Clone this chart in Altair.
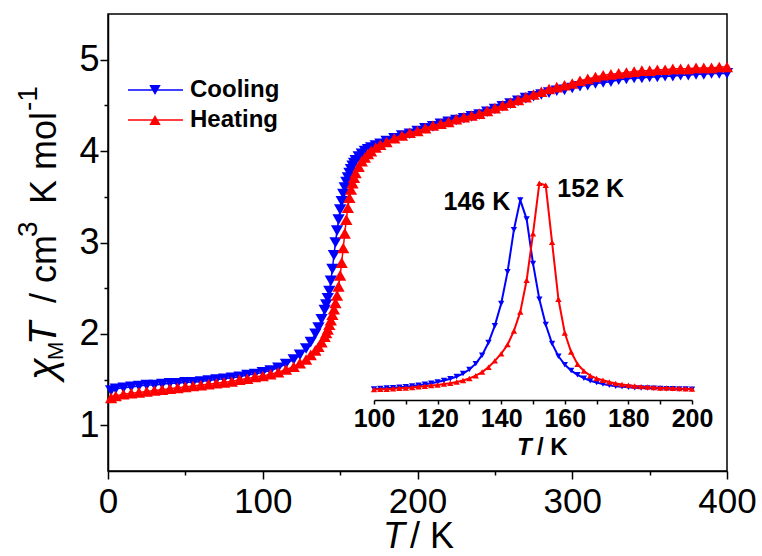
import altair as alt
import pandas as pd

# ---------------- data ----------------
T_main = [2, 5, 10, 15, 20, 25, 30, 35, 40, 45, 50, 55, 60, 65, 70, 75, 80, 85, 90, 95,
          100, 105, 110, 115, 120, 124, 128, 131, 134, 136, 138,
          140, 141, 142, 143, 144, 145, 146, 147, 148, 149, 150, 151, 152, 153, 154, 155,
          156, 157, 158, 159, 160, 162, 164, 166, 168, 170, 173, 176, 180,
          185, 190, 195, 200, 205, 210, 215, 220, 225, 230, 235, 240, 245, 250, 255, 260,
          265, 270, 275, 280, 285, 290, 295, 300, 305, 310, 315, 320, 325, 330, 335, 340,
          345, 350, 355, 360, 365, 370, 375, 380, 385, 390, 395, 400]

chiT_cooling = [1.38, 1.40, 1.41, 1.42, 1.43, 1.44, 1.44, 1.45, 1.46, 1.46, 1.47, 1.47, 1.48, 1.49,
                1.50, 1.51, 1.52, 1.53, 1.55, 1.56, 1.58, 1.60, 1.63, 1.67, 1.72, 1.77, 1.84, 1.91,
                2.00, 2.07, 2.16,
                2.26, 2.32, 2.39, 2.47, 2.58, 2.71, 2.86, 3.00, 3.13, 3.25, 3.36, 3.45, 3.53, 3.60,
                3.66, 3.71, 3.76, 3.80, 3.84, 3.87, 3.90, 3.94, 3.97, 4.00, 4.02, 4.04, 4.06, 4.08,
                4.11,
                4.14, 4.17, 4.19, 4.22, 4.25, 4.27, 4.30, 4.32, 4.34, 4.36, 4.38, 4.40, 4.43, 4.46,
                4.49, 4.52, 4.55, 4.58, 4.60, 4.62, 4.64, 4.66, 4.67, 4.69, 4.71, 4.72, 4.74, 4.75,
                4.76, 4.78, 4.79, 4.80, 4.80, 4.81, 4.81, 4.82, 4.82, 4.83, 4.83, 4.84, 4.84, 4.85,
                4.85, 4.85]

chiT_heating = [1.30, 1.32, 1.34, 1.35, 1.36, 1.37, 1.38, 1.39, 1.40, 1.41, 1.42, 1.43, 1.44, 1.45,
                1.46, 1.47, 1.48, 1.50, 1.51, 1.53, 1.54, 1.56, 1.58, 1.61, 1.64, 1.68, 1.72, 1.77,
                1.82, 1.86, 1.91,
                1.97, 2.01, 2.05, 2.10, 2.15, 2.21, 2.27, 2.34, 2.42, 2.52, 2.64, 2.78, 2.94, 3.10,
                3.25, 3.38, 3.49, 3.58, 3.65, 3.71, 3.76, 3.83, 3.89, 3.93, 3.97, 4.00, 4.04, 4.07,
                4.10,
                4.14, 4.17, 4.20, 4.22, 4.25, 4.28, 4.30, 4.32, 4.35, 4.37, 4.39, 4.41, 4.44, 4.47,
                4.50, 4.53, 4.56, 4.59, 4.62, 4.65, 4.68, 4.70, 4.72, 4.74, 4.77, 4.79, 4.81, 4.83,
                4.84, 4.85, 4.86, 4.87, 4.88, 4.88, 4.89, 4.89, 4.90, 4.90, 4.90, 4.91, 4.91, 4.91,
                4.92, 4.92]

T_inset = [100, 102, 104, 106, 108, 110, 112, 114, 116, 118, 120, 122, 124, 126, 128, 130,
           132, 134, 136, 138, 140, 142, 144, 146, 148, 150, 152, 154, 156, 158, 160, 162,
           164, 166, 168, 170, 172, 174, 176, 178, 180, 182, 184, 186, 188, 190, 192, 194,
           196, 198, 200]

dchiT_cooling = [0.005, 0.007, 0.009, 0.011, 0.013, 0.016, 0.019, 0.023, 0.027, 0.032, 0.038,
                 0.045, 0.053, 0.064, 0.078, 0.097, 0.125, 0.165, 0.225, 0.305, 0.41,
                 0.56, 0.76, 0.90, 0.81, 0.60, 0.43, 0.31, 0.22, 0.16, 0.12, 0.092, 0.072,
                 0.056, 0.044, 0.035, 0.028, 0.022, 0.018, 0.015, 0.013, 0.011, 0.010, 0.009,
                 0.008, 0.007, 0.006, 0.006, 0.005, 0.005, 0.004]

dchiT_heating = [0.002, 0.003, 0.004, 0.006, 0.008, 0.010, 0.012, 0.015, 0.018, 0.021, 0.024,
                 0.028, 0.032, 0.038, 0.045, 0.055, 0.068, 0.085, 0.108, 0.138, 0.172,
                 0.215, 0.28, 0.37, 0.52, 0.74, 0.98, 0.97, 0.70, 0.43, 0.27, 0.18, 0.122,
                 0.09, 0.068, 0.055, 0.046, 0.038, 0.031, 0.026, 0.022, 0.019, 0.016, 0.014,
                 0.012, 0.010, 0.009, 0.008, 0.007, 0.006, 0.005]

series_names = ["Cooling", "Heating"]
peak_T = [146, 152]
peak_labels = ["146 K", "152 K"]
x_ticks = [0, 50, 100, 150, 200, 250, 300, 350, 400]
y_ticks = [1, 1.5, 2, 2.5, 3, 3.5, 4, 4.5, 5]
inset_ticks = [100, 110, 120, 130, 140, 150, 160, 170, 180, 190, 200]

BLUE = "#0000ff"
RED = "#ff0000"
FONT = "Liberation Sans"
W, H = 619, 457

# ---------------- main plot ----------------
df_cool = pd.DataFrame({"T": T_main, "chiT": chiT_cooling})
df_heat = pd.DataFrame({"T": T_main, "chiT": chiT_heating})

x_axis = alt.Axis(values=x_ticks, title=None, grid=False,
                  labelExpr="datum.value % 100 === 0 ? format(datum.value, 'd') : ''",
                  tickSize={"condition": {"test": "datum.value % 100 === 0", "value": 8}, "value": 4},
                  domainColor="black", domainWidth=1.5, tickColor="black", tickWidth=1.5,
                  labelFont=FONT, labelFontSize=35, labelColor="black", labelPadding=5,
                  labelFlush=False, labelOverlap=False)
y_axis = alt.Axis(values=y_ticks, title=None, grid=False,
                  labelExpr="datum.value % 1 === 0 ? format(datum.value, 'd') : ''",
                  tickSize={"condition": {"test": "datum.value % 1 === 0", "value": 8}, "value": 4},
                  domainColor="black", domainWidth=1.5, tickColor="black", tickWidth=1.5,
                  labelFont=FONT, labelFontSize=36, labelColor="black", labelPadding=1,
                  labelFlush=False, labelOverlap=False)

mx = alt.X("T:Q", scale=alt.Scale(domain=[0, 400], nice=False), axis=x_axis)
my = alt.Y("chiT:Q", scale=alt.Scale(domain=[0.5, 5.5], nice=False), axis=y_axis)

cool_line = alt.Chart(df_cool).mark_line(color=BLUE, strokeWidth=1.5).encode(x=mx, y=my)
cool_pts = alt.Chart(df_cool).mark_point(shape="triangle-down", filled=True, color=BLUE,
                                         size=150, opacity=1).encode(x=mx, y=my)
heat_line = alt.Chart(df_heat).mark_line(color=RED, strokeWidth=1.5).encode(x=mx, y=my)
heat_pts = alt.Chart(df_heat).mark_point(shape="triangle-up", filled=True, color=RED,
                                         size=150, opacity=1).encode(x=mx, y=my)
main = alt.layer(cool_line, cool_pts, heat_line, heat_pts)

# ---------------- inset ----------------
di_cool = pd.DataFrame({"T": T_inset, "d": dchiT_cooling})
di_heat = pd.DataFrame({"T": T_inset, "d": dchiT_heating})

inset_axis = alt.Axis(orient="bottom", offset=-71, values=inset_ticks, title=None, grid=False,
                      labelExpr="datum.value % 20 === 0 ? datum.label : ''",
                      tickSize=4, domainColor="black", domainWidth=1.5, tickColor="black",
                      tickWidth=1.5, labelFont=FONT, labelFontSize=25, labelFontWeight="bold",
                      labelColor="black", labelPadding=2, labelFlush=False, labelOverlap=False)
ix = alt.X("T:Q", scale=alt.Scale(domain=[100, 200], range=[266, 584], nice=False), axis=inset_axis)
iy = alt.Y("d:Q", scale=alt.Scale(domain=[0, 1], range=[376, 165], nice=False), axis=None)

i_cool_line = alt.Chart(di_cool).mark_line(color=BLUE, strokeWidth=2).encode(x=ix, y=iy)
i_cool_pts = alt.Chart(di_cool).mark_point(shape="triangle-down", filled=True, color=BLUE,
                                           size=40, opacity=1).encode(x=ix, y=iy)
i_heat_line = alt.Chart(di_heat).mark_line(color=RED, strokeWidth=2).encode(x=ix, y=iy)
i_heat_pts = alt.Chart(di_heat).mark_point(shape="triangle-up", filled=True, color=RED,
                                           size=40, opacity=1).encode(x=ix, y=iy)

peak_vals = [max(dchiT_cooling), max(dchiT_heating)]
lab1 = alt.Chart(pd.DataFrame({"T": [peak_T[0]], "d": [peak_vals[0]], "lab": [peak_labels[0]]})).mark_text(
    align="right", baseline="alphabetic", dx=-10, dy=10, font=FONT, fontSize=25,
    fontWeight="bold", color="black").encode(x=ix, y=iy, text="lab:N")
lab2 = alt.Chart(pd.DataFrame({"T": [peak_T[1]], "d": [peak_vals[1]], "lab": [peak_labels[1]]})).mark_text(
    align="left", baseline="alphabetic", dx=18, dy=14, font=FONT, fontSize=25,
    fontWeight="bold", color="black").encode(x=ix, y=iy, text="lab:N")

inset = alt.layer(i_cool_line, i_cool_pts, i_heat_line, i_heat_pts, lab1, lab2)

# ---------------- annotations: titles and legend ----------------
one = pd.DataFrame({"k": [0]})


def txt(s, x, y, size, angle=0, style="normal", weight="normal", baseline="alphabetic"):
    kw = dict(align="left", baseline=baseline, font=FONT, fontSize=size, fontStyle=style,
              fontWeight=weight, color="black", text=s)
    if angle:
        kw["angle"] = angle
    return alt.Chart(one).mark_text(**kw).encode(x=alt.value(x), y=alt.value(y))


# y title (rotated, reading bottom to top); plot-area coordinates
ytitle = [
    txt("χ", -52, 366, 40, 270, style="italic"),
    txt("M", -45, 346, 22, 270),
    txt("T", -52, 331, 38, 270, style="italic"),
    txt("/ cm", -52, 289, 36, 270),
    txt("3", -71, 223, 28, 270),
    txt("K mol", -52, 190, 36, 270),
    txt("-1", -71, 97, 28, 270),
]
# x title
xtitle = [
    txt("T", 275, 534, 36, style="italic"),
    txt("/ K", 302, 534, 36),
]
# inset x title
ititle = [
    txt("T", 409, 441, 24, style="italic", weight="bold"),
    txt("/ K", 429, 441, 24, weight="bold"),
]

# legend
leg = []
for name, col, shp, yy in [(series_names[0], BLUE, "triangle-down", 76),
                           (series_names[1], RED, "triangle-up", 106)]:
    ldf = pd.DataFrame({"name": [name]})
    leg.append(alt.Chart(ldf).mark_rule(color=col, strokeWidth=1.5).encode(
        x=alt.value(20), x2=alt.value(75), y=alt.value(yy)))
    leg.append(alt.Chart(ldf).mark_point(shape=shp, filled=True, color=col, size=130,
                                         opacity=1).encode(x=alt.value(47), y=alt.value(yy)))
    leg.append(alt.Chart(ldf).mark_text(align="left", baseline="middle", font=FONT, fontSize=24,
                                        fontWeight="bold", color="black").encode(
        x=alt.value(82), y=alt.value(yy), text="name:N"))

annot = alt.layer(*(ytitle + xtitle + ititle + leg))

chart = alt.layer(main, inset, annot).resolve_scale(
    x="independent", y="independent"
).properties(
    width=W, height=H,
    autosize=alt.AutoSizeParams(type="none"),
    padding={"left": 108, "top": 14, "right": 35, "bottom": 85},
    background="white",
).configure_view(stroke="black", strokeWidth=1.5)

chart.save("out.html", embed_options={"renderer": "svg", "actions": False})
